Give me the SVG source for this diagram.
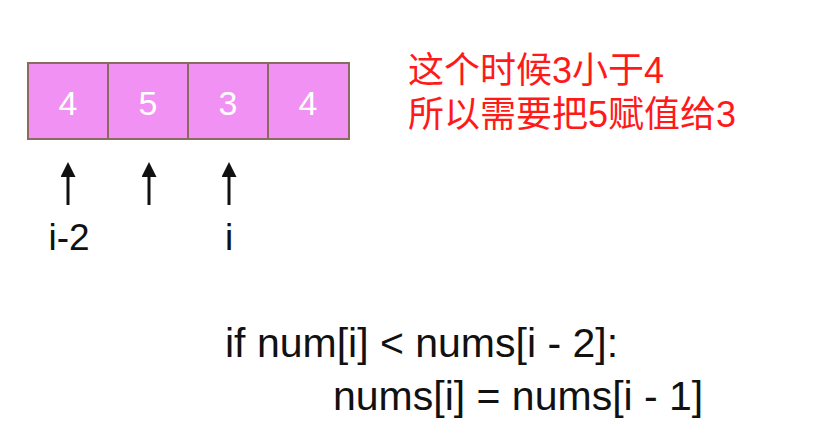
<svg xmlns="http://www.w3.org/2000/svg" width="828" height="426" viewBox="0 0 828 426">
<style>
.cell{fill:#f191f3;stroke:#8a6b5e;stroke-width:2}
.num{font-family:"Liberation Sans",Arial,sans-serif;font-size:34px;fill:#ffffff;text-anchor:middle}
.lbl{font-family:"Liberation Sans",Arial,sans-serif;font-size:37px;fill:#111111;text-anchor:middle}
.note{font-family:"Liberation Sans","Noto Sans CJK SC",sans-serif;font-size:36px;fill:#ff1a1a}
.code{font-family:"Liberation Sans",Arial,sans-serif;font-size:41px;fill:#111111}
.arrow{stroke:#111111;stroke-width:3;fill:none}
</style>
<defs>
<marker id="ah" markerWidth="5" markerHeight="5" refX="0" refY="2.5" orient="auto" markerUnits="strokeWidth">
<path d="M0,0 L5,2.5 L0,5 Z" fill="#111111"/>
</marker>
</defs>
<rect width="828" height="426" fill="#ffffff"/>
<g id="cell0"><rect class="cell" x="28" y="63" width="80" height="76"/><text class="num" x="68" y="115">4</text></g>
<g id="cell1"><rect class="cell" x="108" y="63" width="80" height="76"/><text class="num" x="148" y="115">5</text></g>
<g id="cell2"><rect class="cell" x="188" y="63" width="80" height="76"/><text class="num" x="228" y="115">3</text></g>
<g id="cell3"><rect class="cell" x="268" y="63" width="81" height="76"/><text class="num" x="308" y="115">4</text></g>
<g id="connectors">
<line class="arrow" x1="68" y1="205" x2="68" y2="177" marker-end="url(#ah)"/>
<line class="arrow" x1="149" y1="205" x2="149" y2="177" marker-end="url(#ah)"/>
<line class="arrow" x1="229" y1="205" x2="229" y2="177" marker-end="url(#ah)"/>
</g>
<g id="labels">
<text class="lbl" x="69" y="250">i-2</text>
<text class="lbl" x="229" y="250">i</text>
</g>
<g id="note">
<text class="note" x="408" y="83">这个时候3小于4</text>
<text class="note" x="408" y="127">所以需要把5赋值给3</text>
</g>
<g id="code">
<text class="code" x="225" y="357">if num[i] &lt; nums[i - 2]:</text>
<text class="code" x="333" y="410">nums[i] = nums[i - 1]</text>
</g>
</svg>
